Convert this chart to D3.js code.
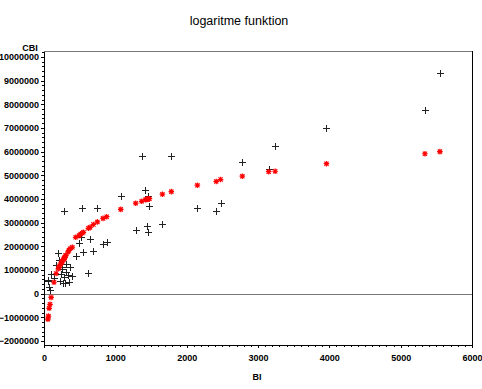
<!DOCTYPE html>
<html>
<head>
<meta charset="utf-8">
<script src="https://cdn.jsdelivr.net/npm/d3@7"></script>
<style>
  body { margin: 0; background: #fff; }
  svg { display: block; }
  .axis text { font-family: "Liberation Sans", Arial, sans-serif; font-weight: bold; font-size: 9px; fill: #000; }
  .axis path, .axis line { stroke: #000; shape-rendering: crispEdges; }
</style>
</head>
<body>
<div id="chart"></div>
<script>
// BI values (x) for each observation
const bi = [5550, 5340, 3960, 3240, 3150, 2780, 2475, 2415, 2150, 1785,
  1370, 1660, 1478, 1455, 1421, 1440, 1460, 1286, 1076, 879,
  828, 748, 692, 645, 622, 552, 537, 491, 365, 304,
  304, 290, 285, 248, 220, 210, 200, 140, 100, 84,
  72, 62, 55, 337, 271, 234, 257, 280, 350, 397, 444, 514, 170];
// observed CBI (black crosses)
const cbi = [9310000, 7770000, 7000000, 6240000, 5250000, 5560000, 3830000, 3510000, 3600000, 5820000,
  5800000, 2960000, 3690000, 4140000, 4390000, 2870000, 2610000, 2690000, 4140000, 2200000,
  2100000, 3600000, 1820000, 2310000, 890000, 1740000, 3620000, 2140000, 1140000, 1250000,
  930000, 440000, 3510000, 1040000, 550000, 1440000, 1720000, 650000, 830000, 160000,
  300000, 580000, 550000, 800000, 450000, 830000, 1110000, 690000, 480000, 760000, 1600000, 2400000, 1200000];
// fitted logarithm (red stars)
const pred = [6000000, 5910000, 5490000, 5170000, 5150000, 4960000, 4820000, 4740000, 4580000, 4310000,
  3900000, 4200000, 4010000, 3990000, 3970000, 3980000, 4000000, 3820000, 3560000, 3250000,
  3180000, 3030000, 2920000, 2800000, 2760000, 2590000, 2550000, 2450000, 1900000, 1620000,
  1600000, 1520000, 1500000, 1330000, 1180000, 1120000, 1050000, 480000, -160000, -450000,
  -620000, -950000, -1080000, 1760000, 1420000, 1250000, 1370000, 1480000, 1830000, 1960000, 2380000, 2520000, 850000];

const xTicks = [0, 1000, 2000, 3000, 4000, 5000, 6000];
const yTicks = [-2000000, -1000000, 0, 1000000, 2000000, 3000000, 4000000, 5000000,
  6000000, 7000000, 8000000, 9000000, 10000000];

const width = 482, height = 389;
const data = bi.map((b, i) => ({ bi: b, cbi: cbi[i], pred: pred[i] }));

const x = d3.scaleLinear().domain([0, 6000]).range([44, 472]);
const y = d3.scaleLinear().domain([-2170000, 10250000]).range([345, 51]);

const svg = d3.select("#chart").append("svg")
  .attr("width", width)
  .attr("height", height);

// title
svg.append("text")
  .attr("x", 239).attr("y", 25)
  .attr("text-anchor", "middle")
  .attr("font-family", "Liberation Sans, Arial, sans-serif")
  .attr("font-size", 12.5)
  .text("logaritme funktion");

// frame: top and right
svg.append("line")
  .attr("x1", x(0)).attr("x2", x(6000))
  .attr("y1", y.range()[1] + 0.5).attr("y2", y.range()[1] + 0.5)
  .attr("stroke", "#777");
svg.append("line")
  .attr("x1", x(6000) + 0.5).attr("x2", x(6000) + 0.5)
  .attr("y1", y.range()[1]).attr("y2", y.range()[0])
  .attr("stroke", "#000");

// zero reference line
svg.append("line")
  .attr("x1", x(0)).attr("x2", x(6000))
  .attr("y1", Math.round(y(0)) + 0.5).attr("y2", Math.round(y(0)) + 0.5)
  .attr("stroke", "#777");

// minor ticks
svg.append("g")
  .attr("class", "axis")
  .attr("transform", `translate(${x(0)},0)`)
  .call(d3.axisLeft(y).tickValues(d3.range(-2000000, 10200001, 200000)).tickSize(2).tickFormat(""))
  .call(g => g.select(".domain").remove());
svg.append("g")
  .attr("class", "axis")
  .attr("transform", `translate(0,${y.range()[0]})`)
  .call(d3.axisBottom(x).tickValues(d3.range(0, 6001, 100)).tickSize(2).tickFormat(""))
  .call(g => g.select(".domain").remove());

// major axes
svg.append("g")
  .attr("class", "axis")
  .attr("transform", `translate(${x(0)},0)`)
  .call(d3.axisLeft(y).tickValues(yTicks).tickSize(3).tickSizeOuter(0).tickPadding(2).tickFormat(d3.format("d")));
svg.append("g")
  .attr("class", "axis")
  .attr("transform", `translate(0,${y.range()[0]})`)
  .call(d3.axisBottom(x).tickValues(xTicks).tickSize(3).tickSizeOuter(0).tickPadding(7).tickFormat(d3.format("d")));

// axis titles
svg.append("text")
  .attr("x", 30).attr("y", 51)
  .attr("text-anchor", "middle")
  .attr("font-family", "Liberation Sans, Arial, sans-serif")
  .attr("font-weight", "bold").attr("font-size", 9)
  .text("CBI");
svg.append("text")
  .attr("x", 257).attr("y", 380)
  .attr("text-anchor", "middle")
  .attr("font-family", "Liberation Sans, Arial, sans-serif")
  .attr("font-weight", "bold").attr("font-size", 9)
  .text("BI");

// observed: black crosses
svg.append("g")
  .attr("stroke", "#222")
  .attr("stroke-width", 1)
  .selectAll("path")
  .data(data)
  .join("path")
  .attr("d", d => {
    const cx = Math.round(x(d.bi)) + 0.5, cy = Math.round(y(d.cbi)) + 0.5;
    return `M${cx - 3.5},${cy}H${cx + 3.5}M${cx},${cy - 3.5}V${cy + 3.5}`;
  });

// predicted: red stars
svg.append("g")
  .attr("stroke", "#ff0000")
  .attr("stroke-width", 1.2)
  .selectAll("path")
  .data(data)
  .join("path")
  .attr("d", d => {
    const cx = x(d.bi), cy = y(d.pred), r = 2.8;
    return `M${cx - r},${cy}H${cx + r}M${cx},${cy - r}V${cy + r}` +
      `M${cx - r * 0.75},${cy - r * 0.75}L${cx + r * 0.75},${cy + r * 0.75}` +
      `M${cx - r * 0.75},${cy + r * 0.75}L${cx + r * 0.75},${cy - r * 0.75}`;
  });
</script>
</body>
</html>
